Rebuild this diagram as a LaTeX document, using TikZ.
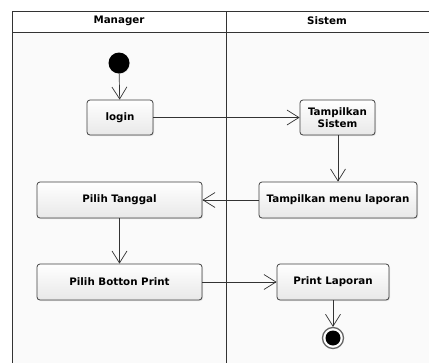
\documentclass[tikz,border=0pt]{standalone}
\usepackage{fontspec}
\setmainfont{DejaVu Sans}
\usetikzlibrary{arrows.meta,positioning,calc,shadows}

\begin{document}
\begin{tikzpicture}[x=1pt,y=-1pt,
    act/.style={draw=black!75,line width=0.8pt,rounded corners=3pt,top color=white,bottom color=black!9,
        font=\bfseries\fontsize{10.3}{11.5}\selectfont,align=center,inner sep=0pt,
        drop shadow={opacity=0.2,shadow xshift=1pt,shadow yshift=-1pt}},
    flow/.style={draw=black!80,line width=0.7pt,-{Straight Barb[length=12pt,width=15pt,line width=0.7pt]}},
    lane/.style={draw=black!80,line width=0.9pt}]
    \useasboundingbox (0,0) rectangle (429,362);
    \clip (0,0) rectangle (429,362);
    \fill[white] (0,0) rectangle (429,362);

    % Swimlanes
    \fill[black!2] (12,32) rectangle (440,380);
    \draw[lane] (12,380) -- (12,11) -- (440,11);
    \draw[lane] (12,32) -- (440,32);
    \draw[lane] (226,11) -- (226,380);
    \node[font=\bfseries\fontsize{10.3}{12}\selectfont] (manager) at (119,20.5) {Manager};
    \node[font=\bfseries\fontsize{10.3}{12}\selectfont] (sistem) at (327,20.5) {Sistem};

    % Start and end
    \node[circle,fill=black,minimum size=21pt,inner sep=0pt,
        drop shadow={opacity=0.2,shadow xshift=0.5pt,shadow yshift=-0.5pt}] (startnode) at (119,63) {};
    \node[circle,draw=black!60,line width=1.3pt,fill=white,minimum size=21pt,inner sep=0pt] (endnode) at (333,338) {};
    \fill[black] (endnode) circle (7.5);

    % Activities
    \node[act,minimum width=66pt,minimum height=35pt] (login) at (120,117.5) {login};
    \node[act,minimum width=75pt,minimum height=35pt] (tampil) at (337.5,117.5) {Tampilkan\\Sistem};
    \node[act,minimum width=158pt,minimum height=36pt] (menu) at (338,200) {Tampilkan menu laporan};
    \node[act,minimum width=165pt,minimum height=36pt] (tanggal) at (119.5,200) {Pilih Tanggal};
    \node[act,minimum width=165pt,minimum height=36pt] (botton) at (119.5,282) {Pilih Botton Print};
    \node[act,minimum width=112pt,minimum height=36pt] (print) at (333,282) {Print Laporan};

    % Flows
    \draw[flow] (startnode) -- (login);
    \draw[flow] (login) -- (tampil);
    \draw[flow] (tampil.south -| menu.north) -- (menu.north);
    \draw[flow] (menu) -- (tanggal);
    \draw[flow] (tanggal) -- (botton);
    \draw[flow] (botton) -- (print);
    \draw[flow] (print) -- (endnode);
\end{tikzpicture}
\end{document}
